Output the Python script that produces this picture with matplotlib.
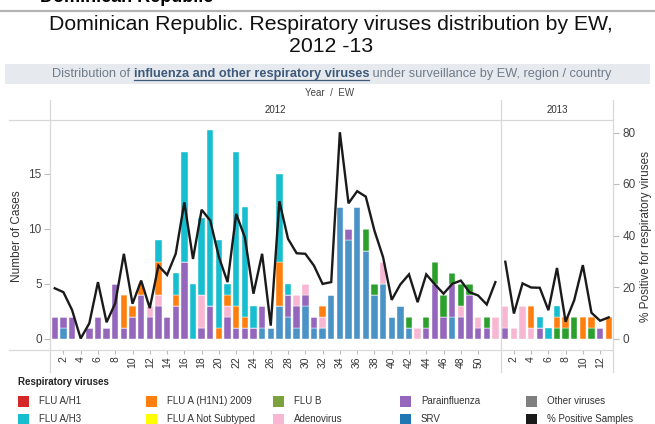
import matplotlib
matplotlib.use("Agg")
import matplotlib.pyplot as plt
import numpy as np
from matplotlib.lines import Line2D
from matplotlib.patches import Rectangle

W, H = 655, 424

weeks_2012 = np.arange(1, 53)
weeks_2013 = np.arange(1, 14)

# cases per virus by EW, 2012
srv_2012 = [0,1,0,0,0,0,0,0,0,0, 0,0,0,0,0,0,0,0,0,0, 0,0,0,0,1,1,3,2,1,3,
            1,1,4,12,9,12,8,4,5,2, 3,1,0,0,0,0,2,0,0,0, 0,0]
para_2012 = [2,1,2,0,1,2,1,5,1,2, 4,2,3,2,3,7,0,1,3,0, 2,1,1,1,2,0,0,2,2,1,
             1,0,0,0,1,0,0,0,0,0, 0,0,0,1,5,2,3,2,4,1, 1,0]
adeno_2012 = [0,0,0,0,0,0,0,0,0,0, 0,1,1,0,0,0,0,3,0,0, 1,0,0,0,0,0,0,0,1,1,
              0,1,0,0,0,0,0,0,2,0, 0,0,1,0,0,0,0,1,0,1, 0,2]
flub_2012 = [0,0,0,0,0,0,0,0,0,0, 0,0,0,0,0,0,0,0,0,0, 0,0,0,0,0,0,0,0,0,0,
             0,0,0,0,0,0,2,1,0,0, 0,1,0,1,2,2,1,2,1,0, 1,0]
h1n1_2012 = [0,0,0,0,0,0,0,0,3,1, 1,0,3,0,1,0,0,0,0,1, 1,2,1,0,0,0,4,0,0,0,
             0,1,0,0,0,0,0,0,0,0, 0,0,0,0,0,0,0,0,0,0, 0,0]
h3_2012 = [0,0,0,0,0,0,0,0,0,0, 0,0,2,0,2,10,5,7,16,8, 1,14,10,2,0,0,8,1,0,0,
           0,0,0,0,0,0,0,0,0,0, 0,0,0,0,0,0,0,0,0,0, 0,0]
pct_2012 = [19.5, 18.0, 11.1, 0.0, 5.9, 21.9, 6.3, 13.7, 32.9, 13.5,
            22.5, 11.8, 28.3, 24.7, 32.9, 52.9, 30.9, 50.0, 45.8, 31.6,
            21.9, 48.4, 39.3, 17.4, 32.9, 5.0, 53.3, 38.7, 33.1, 32.9,
            28.3, 21.2, 21.9, 80.1, 52.5, 57.2, 55.1, 41.9, 31.6, 15.0,
            21.0, 24.9, 14.1, 24.9, 21.0, 17.4, 21.2, 22.5, 18.0, 16.7,
            13.2, 21.9]

# 2013
srv_2013 = [0,0,0,0,0,0,0,0,0,0,0,0,0]
para_2013 = [1,0,0,0,1,0,0,0,0,0,0,1,0]
adeno_2013 = [2,1,3,1,0,0,0,0,0,0,0,0,0]
flub_2013 = [0,0,0,0,0,0,1,1,2,0,1,0,0]
h1n1_2013 = [0,0,0,2,0,0,1,1,0,2,1,0,2]
h3_2013 = [0,0,0,0,1,1,1,0,0,0,0,0,0]
pct_2013 = [29.8, 9.7, 21.4, 19.8, 19.7, 11.0, 27.4, 6.5, 14.9, 28.5, 10.0, 6.9, 8.2]

legend_labels = [["FLU A/H1", "FLU A (H1N1) 2009", "FLU B", "Parainfluenza", "Other viruses"],
                 ["FLU A/H3", "FLU A Not Subtyped", "Adenovirus", "SRV", "% Positive Samples"]]
legend_colors = [["#d62728", "#ff7f0e", "#7ba23d", "#9467bd", "#7f7f7f"],
                 ["#17becf", "#ffff00", "#f7b6d2", "#1f77b4", "#1a1a1a"]]

bar_colors = ["#4a93c6", "#9467bd", "#f7b6d2", "#2ca02c", "#ff7f0e", "#17becf"]

plt.rcParams['font.family'] = ['Liberation Sans', 'DejaVu Sans']

def fx(x):
    return x / W

def fy(y):
    return 1 - y / H

fig = plt.figure(figsize=(W / 100, H / 100), dpi=100)

CASE_LIM = (-11.5 / 11, 218.5 / 11)
PCT_LIM = (-11.5 / 2.575, 218.5 / 2.575)


def draw_panel(ax, weeks, series, pct, xlim, ticks):
    bottom = np.zeros(len(weeks))
    for vals, col in zip(series, bar_colors):
        vals = np.array(vals, dtype=float)
        ax.bar(weeks, vals, bottom=bottom, width=0.74, color=col,
               edgecolor="white", linewidth=0.3)
        bottom += vals
    ax.set_xlim(*xlim)
    ax.set_ylim(*CASE_LIM)
    for s in ax.spines.values():
        s.set_visible(False)
    ax.set_xticks(ticks)
    ax.set_xticklabels([str(t) for t in ticks], rotation=90)
    ax.tick_params(axis="x", length=3, color="#bbbbbb", labelsize=7.5,
                   labelcolor="#333333", pad=1.5)
    tw = ax.twinx()
    tw.plot(weeks, pct, color="#1a1a1a", lw=1.7, solid_joinstyle="miter")
    tw.set_ylim(*PCT_LIM)
    tw.set_xlim(*xlim)
    for s in tw.spines.values():
        s.set_visible(False)
    return tw


ax12 = fig.add_axes([fx(50), fy(350), fx(501) - fx(50), (350 - 120) / H])
ax13 = fig.add_axes([fx(501), fy(350), fx(613) - fx(501), (350 - 120) / H])

t12 = draw_panel(ax12, weeks_2012,
                 [srv_2012, para_2012, adeno_2012, flub_2012, h1n1_2012, h3_2012],
                 pct_2012, (0.45, 52.65), list(range(2, 51, 2)))
t13 = draw_panel(ax13, weeks_2013,
                 [srv_2013, para_2013, adeno_2013, flub_2013, h1n1_2013, h3_2013],
                 pct_2013, (0.5, 13.5), list(range(2, 13, 2)))

ax12.set_yticks([0, 5, 10, 15])
ax12.tick_params(axis="y", length=4, color="#bbbbbb", labelsize=8.5,
                 labelcolor="#444444", pad=2)
ax13.set_yticks([])
t12.set_yticks([])
t13.set_yticks([0, 20, 40, 60, 80])
t13.tick_params(axis="y", length=4, color="#bbbbbb", labelsize=8.5,
                labelcolor="#444444", pad=3)

fig.text(fx(17), fy(236), "Number of Cases", rotation=90, ha="center", va="center",
         fontsize=8.5, color="#333333")
fig.text(fx(646), fy(237), "% Positive for respiratory viruses", rotation=90,
         ha="center", va="center", fontsize=8.5, color="#333333")

# frame lines
grid_col = "#d8d8d8"
for y in (120, 350):
    fig.add_artist(Line2D([fx(9), fx(613)], [fy(y), fy(y)], color=grid_col, lw=0.9))
for x in (50, 501, 613):
    fig.add_artist(Line2D([fx(x), fx(x)], [fy(100), fy(372)], color=grid_col, lw=0.9))

fig.text(fx(275), fy(110), "2012", ha="center", va="center", fontsize=7, color="#333333")
fig.text(fx(557), fy(110), "2013", ha="center", va="center", fontsize=7, color="#333333")
fig.text(fx(330), fy(93), "Year  /  EW", ha="center", va="center", fontsize=7, color="#444444")

# top of page (header text cut off by the crop, as in the source)
fig.text(fx(40), fy(2.5), "Dominican Republic", fontsize=13, weight="bold", va="baseline")
fig.add_artist(Line2D([0, 1], [fy(11), fy(11)], color="#b4b4b4", lw=1.6))
fig.text(fx(331), fy(24), "Dominican Republic. Respiratory viruses distribution by EW,",
         ha="center", va="center", fontsize=15.3, color="#111111")
fig.text(fx(331), fy(47), "2012 -13", ha="center", va="center", fontsize=15.3, color="#111111")

# sub-header band
fig.add_artist(Rectangle((fx(5), fy(84)), fx(650) - fx(5), 20 / H,
                         transform=fig.transFigure, color="#e6e9ee", lw=0))
narrow = ['Liberation Sans Narrow', 'Liberation Sans', 'DejaVu Sans']
parts = [("Distribution of ", "normal", "#707c8a"),
         ("influenza and other respiratory viruses", "bold", "#3d5a7a"),
         (" under surveillance by EW, region / country", "normal", "#707c8a")]
renderer = fig.canvas.get_renderer()
objs = []
for txt, wt, col in parts:
    t = fig.text(0, fy(74), txt, fontsize=9.15, weight=wt, color=col, family=narrow,
                 va="center", ha="left")
    objs.append(t)
widths = [o.get_window_extent(renderer).width for o in objs]
x0 = 332 - sum(widths) / 2
for o, w in zip(objs, widths):
    o.set_x(fx(x0))
    if o.get_weight() == "bold":
        fig.add_artist(Line2D([fx(x0), fx(x0 + w)], [fy(80), fy(80)], color="#3d5a7a", lw=0.9))
    x0 += w

# legend
fig.text(fx(18), fy(382), "Respiratory viruses", fontsize=7, weight="bold",
         va="center", color="#222222")
col_x = [18, 146, 273, 400, 526]
row_y = [401, 419]
for r in range(2):
    for c in range(5):
        fig.add_artist(Rectangle((fx(col_x[c]), fy(row_y[r] + 5.5)), 11 / W, 11 / H,
                                 transform=fig.transFigure, color=legend_colors[r][c], lw=0))
        fig.text(fx(col_x[c] + 21), fy(row_y[r]), legend_labels[r][c], fontsize=7,
                 va="center", color="#333333")

fig.savefig("out.png", dpi=100)
